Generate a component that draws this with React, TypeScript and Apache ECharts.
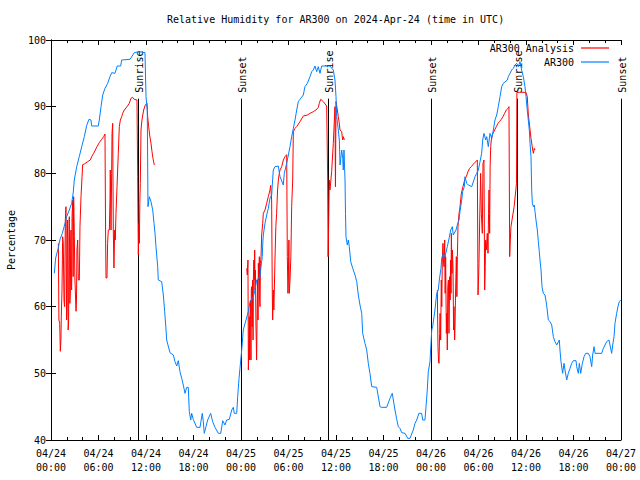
import React, { useEffect, useRef } from "react";
import * as echarts from "echarts";

const TITLE = "Relative Humidity for AR300 on 2024-Apr-24 (time in UTC)";
const Y_NAME = "Percentage";
const SERIES_NAMES = ["AR300 Analysis", "AR300"];
const X_TICK_LABELS = [
  "04/24\n00:00", "04/24\n06:00", "04/24\n12:00", "04/24\n18:00",
  "04/25\n00:00", "04/25\n06:00", "04/25\n12:00", "04/25\n18:00",
  "04/26\n00:00", "04/26\n06:00", "04/26\n12:00", "04/26\n18:00",
  "04/27\n00:00",
];
const Y_MIN = 40;
const Y_MAX = 100;
const Y_STEP = 10;
const X_MIN = 0;
const X_MAX = 72;
const X_STEP = 6;

// hours since 04/24 00:00 UTC, label
const SUN_EVENTS: [number, string][] = [
  [11.03, "Sunrise"], [24.0, "Sunset"],
  [35.03, "Sunrise"], [48.04, "Sunset"],
  [58.9, "Sunrise"], [72.0, "Sunset"],
];
const SUN_LINE_TOP = 91.2;

// AR300 observed relative humidity [hours, %]
const AR300: [number, number][] = [
  [0.42,65],[0.59,67.3],[0.92,68.8],[1.14,70.1],[1.43,71],[1.77,72.5],[1.98,73.5],[2.31,74.5],[2.61,75.5],[2.82,77.2],
  [2.94,79],[3.25,81],[3.57,82.5],[3.88,84],[4.21,85.5],[4.51,87.2],[4.8,88.1],[5.05,88],[5.14,87.1],[5.97,87.1],
  [6.1,88],[6.32,90],[6.53,91.75],[6.82,92.75],[7.16,93.5],[7.45,94.5],[7.67,95.1],[8.08,95],[8.37,96.1],[8.8,96.1],
  [8.93,97],[9.98,97.1],[10.52,98.1],[11.15,98.25],[11.87,98.1],[12.0,91.5],[12.16,89.5],[12.25,75],[12.42,76.5],[12.63,75.75],
  [12.85,74.5],[13.01,72.5],[13.14,71],[13.26,69],[13.48,66],[13.55,64],[13.98,63.75],[14.19,61.75],[14.36,59.25],[14.49,57.25],
  [14.61,55],[15.03,53.1],[15.45,52.75],[15.66,51.75],[15.88,51.1],[16.08,51.9],[16.29,50.25],[16.51,49.25],[16.71,48.25],[16.93,47],
  [17.14,47.9],[17.34,47.9],[17.47,44.25],[17.65,43],[17.77,44],[17.97,43.1],[18.4,41.9],[18.82,41.9],[19.11,44],[19.24,42.75],
  [19.36,41],[19.58,42],[19.79,43],[20.17,44],[20.42,42.75],[20.72,41.9],[21.13,41],[21.44,41],[21.69,42.9],[21.98,42.25],
  [22.19,43],[22.52,43.1],[22.83,44.5],[23.03,44.9],[23.15,44],[23.46,44],[23.58,46.5],[23.75,49.25],[23.87,50.75],[24.09,53.5],
  [24.29,56.5],[24.63,58],[24.92,59.25],[25.14,60.75],[25.56,61.5],[25.77,62.5],[25.98,64],[26.4,64.5],[26.53,66],[26.69,67.5],
  [26.74,69.25],[26.82,70.75],[27.03,72.5],[27.25,73.75],[27.45,74.75],[27.66,76.25],[27.88,76.75],[27.95,78.25],[28.08,80.5],[28.29,81],
  [28.71,81.1],[28.93,79.5],[29.34,78.25],[29.47,80],[29.77,81.5],[30.19,84],[30.4,85.5],[30.61,86.75],[30.82,88],[31.04,89.5],
  [31.24,90.75],[31.45,91.1],[31.87,91.75],[32.08,93],[32.38,93.5],[32.72,94.5],[32.93,95.25],[33.13,95.5],[33.35,96.1],[33.56,95.25],
  [33.76,96],[33.98,95],[34.19,96.1],[35.24,96.1],[35.66,95.5],[35.87,94],[36.0,91.5],[36.09,88.5],[36.29,86.5],[36.42,85],
  [36.51,81.25],[36.72,83.5],[36.85,82.25],[36.92,80.5],[37.01,83.5],[37.14,79],[37.2,74],[37.26,70.5],[37.43,69.25],[37.56,70],
  [37.68,69],[37.86,66.75],[38.11,65.75],[38.4,64.75],[38.62,63.75],[38.82,61.75],[39.03,60.25],[39.25,59],[39.37,56],[39.66,54.5],
  [39.88,53.5],[40.08,51.5],[40.29,50],[40.51,48],[41.14,47.9],[41.56,45],[41.77,44.9],[42.4,44.9],[42.82,46.25],[43.11,47],
  [43.24,46],[43.45,44.5],[43.67,43.1],[43.87,42],[44.08,41.75],[44.3,41.1],[44.72,41],[45.06,40.25],[45.35,40.25],[45.56,40.9],
  [45.76,41.5],[45.98,42.5],[46.19,43],[46.48,44],[46.82,44],[46.95,43],[47.24,43],[47.37,45],[47.53,47.5],[47.66,50.25],
  [47.87,51.75],[48.0,54.5],[48.09,56.5],[48.21,57],[48.38,58.5],[48.5,59.5],[48.63,61],[48.72,62],[48.92,62.5],[49.05,64],
  [49.14,64.75],[49.26,65.75],[49.35,67.25],[49.56,68],[49.77,67.5],[50.06,69],[50.31,70.4],[50.49,71.5],[50.69,72],[50.82,70.75],
  [51.16,71.5],[51.32,72.25],[51.54,73],[51.66,74.25],[51.88,76],[52.0,77.25],[52.21,78],[52.29,79.5],[52.51,78.5],[52.71,78.25],
  [53.14,78],[53.56,79.5],[53.77,80],[53.98,80.5],[54.19,81.75],[54.4,83],[54.53,85],[54.69,86],[54.91,85],[55.04,85.5],
  [55.24,84],[55.45,86],[55.67,85.25],[55.87,86.5],[56.08,88],[56.3,88.75],[56.5,90],[56.72,91.5],[56.93,93],[57.13,93.5],
  [57.64,94],[57.76,94.5],[57.98,95],[58.19,95.5],[58.4,95.75],[58.61,96.25],[58.82,96.5],[59.03,96],[59.24,96.75],[59.45,95.5],
  [59.66,94.5],[59.87,93],[60.0,91.5],[60.16,89.5],[60.29,88],[60.42,86.5],[60.51,84.5],[60.63,82.5],[60.72,77.5],[60.8,75.5],
  [60.93,75],[61.05,75.25],[61.14,74.25],[61.26,73],[61.43,71.5],[61.56,69.75],[61.68,68.25],[61.77,67],[61.9,65.5],[62.02,63],
  [62.19,62],[62.4,61.75],[62.61,60.25],[62.82,58],[63.03,57.75],[63.25,57.25],[63.45,55.5],[63.66,54.75],[63.88,54.25],[64.21,55],
  [64.29,53.5],[64.42,51.75],[64.63,50],[64.8,51.5],[64.93,50.5],[65.14,49],[65.34,50],[65.56,50.75],[65.77,51.5],[65.98,51.9],
  [66.32,51.9],[66.4,51],[66.61,50],[66.74,51.5],[66.91,50],[67.12,51.5],[67.33,52.5],[67.54,53],[67.87,53],[68.08,52.5],
  [68.3,51],[68.42,52.75],[68.59,54],[68.72,53],[69.56,53],[69.77,53.75],[69.98,54.25],[70.19,54.75],[70.48,55],[70.61,54.25],
  [70.82,53],[70.95,54.25],[71.12,55.5],[71.24,57.5],[71.45,59],[71.66,60.25],[71.79,60.75],[71.96,61],
];

// AR300 Analysis [hours, %]; null marks a gap
const ANALYSIS: [number, number | null][] = [
  // 04/24 daytime
  [0.93,69.5],[1.0,58],[1.1,57.5],[1.18,53.3],[1.26,55.3],[1.3,58.5],[1.39,62.5],[1.47,70.5],[1.55,69.5],[1.64,61],
  [1.72,60],[1.81,73],[1.89,75],[1.97,58],[2.02,60],[2.06,73],[2.11,70.5],[2.17,56.5],[2.23,58],[2.28,73],
  [2.32,73.5],[2.38,60.5],[2.44,62],[2.49,70],[2.53,71.5],[2.57,63],[2.61,62.5],[2.66,73.5],[2.74,76],[2.8,64.5],
  [2.86,76.5],[2.91,73.5],[2.95,70.5],[3.01,64.5],[3.07,64.5],[3.16,59.3],[3.22,61],[3.28,68.5],[3.37,70],[3.45,64],
  [3.58,64],[3.66,72],[3.71,72],[3.79,76.5],[3.92,79.5],[4.0,81.3],[4.21,81.4],[4.63,81.75],[4.97,82],[5.14,82.5],
  [5.39,83],[5.6,83.5],[5.81,84],[6.1,84.6],[6.4,85.1],[6.65,85.5],[6.82,85.9],[6.9,70],[6.95,64.3],[7.07,64.3],
  [7.15,69.5],[7.24,71.5],[7.37,71.5],[7.45,76],[7.49,80.5],[7.58,71.5],[7.66,80],[7.71,86],[7.79,87.5],[7.87,71.5],
  [7.95,65.8],[8.04,71.5],[8.12,70],[8.21,74],[8.34,78],[8.5,83],[8.63,87],[8.76,88],[8.93,88.5],[9.05,89],
  [9.26,89.5],[9.6,90],[9.89,90.5],[10.1,91.25],[10.3,91.4],[10.5,91.1],[10.86,91],[10.95,79.5],[11.03,67.8],[11.1,72.5],
  [11.16,69.5],[11.22,75.5],[11.28,78.5],[11.37,86.5],[11.49,88],[11.7,89.5],[11.92,90.25],[12.13,90.5],[12.21,88.5],[12.34,87],
  [12.46,85.75],[12.63,84.5],[12.76,83.25],[12.88,82.25],[13.05,81.25],
  [13.5,null],
  // 04/25 daytime
  [24.72,65.75],[24.8,64.75],[24.88,67],[24.93,50.5],[25.0,55],[25.05,58.5],[25.1,52],[25.14,59],[25.2,61],[25.26,52],
  [25.3,62.5],[25.35,63],[25.41,57],[25.47,64],[25.52,55],[25.56,64],[25.62,67],[25.68,64],[25.73,68.5],[25.77,62.5],
  [25.83,65.5],[25.89,57],[25.93,55],[25.97,52],[26.03,58],[26.1,64],[26.15,58],[26.19,66.5],[26.25,64],[26.32,67.5],
  [26.36,61],[26.4,60],[26.46,66.5],[26.53,67.5],[26.61,70.75],[26.74,72.5],[26.82,74],[27.03,74.5],[27.24,75.5],[27.45,76.5],
  [27.66,77.5],[27.75,78.2],[27.87,76],[27.95,62.5],[28.0,58],[28.08,62.5],[28.15,59.5],[28.21,62.5],[28.29,67],[28.4,72],
  [28.5,74],[28.62,77.5],[28.72,79],[28.84,80],[28.93,80.5],[29.14,81],[29.35,82],[29.56,82.5],[29.77,82.8],[29.85,67.5],
  [29.93,62],[29.98,64],[30.05,70],[30.1,62],[30.19,64],[30.3,67.5],[30.4,75],[30.53,79],[30.61,86.25],[30.82,86.75],
  [31.03,87],[31.45,87.75],[31.87,88.6],[32.38,88.75],[32.72,89],[33.14,89.25],[33.47,89.5],[33.77,89.9],[33.89,90.5],[34.06,91.1],
  [34.4,90.75],[34.82,90.1],[34.95,79],[35.0,67.5],[35.07,72],[35.15,79],[35.24,77.5],[35.45,80.25],[35.66,84.5],[35.87,90],
  [35.93,78],[36.0,90.75],[36.17,89.5],[36.29,88.5],[36.42,87.5],[36.5,86.5],[36.72,86.25],[36.84,85],[36.93,85.5],[37.05,85],
  [37.5,null],
  // 04/26 daytime
  [48.8,62.5],[48.88,54],[48.95,52],[49.01,51.5],[49.09,56],[49.15,59],[49.22,55],[49.3,64],[49.36,60],[49.43,67],
  [49.51,69.5],[49.57,67],[49.64,66],[49.73,70],[49.79,62],[49.85,67.5],[49.94,56],[50.0,59],[50.06,53.5],[50.12,63],
  [50.2,64],[50.27,56],[50.36,64.5],[50.42,61],[50.48,67],[50.53,62],[50.57,71],[50.65,65],[50.7,68.5],[50.78,66],
  [50.85,56.5],[50.9,60],[50.99,55],[51.05,58],[51.11,62.5],[51.2,67.5],[51.27,61.5],[51.33,67.5],[51.41,72],[51.54,74],
  [51.62,74.5],[51.75,76],[51.83,77],[52.04,78],[52.25,79],[52.46,79.5],[52.67,80.25],[52.88,80.75],[53.09,81],[53.3,81.3],
  [53.51,81.6],[53.73,81.8],[53.85,82],[53.94,61.75],[54.0,64],[54.06,66.5],[54.15,73],[54.27,80],[54.36,74],[54.48,71],
  [54.57,81.5],[54.69,82],[54.78,62.5],[54.85,66],[54.9,70],[54.99,68.5],[55.11,71],[55.2,68],[55.27,74],[55.33,77.5],
  [55.41,71],[55.47,81],[55.54,84],[55.62,85],[55.75,85.8],[55.83,86],[56.04,86.5],[56.25,87],[56.46,87.5],[56.67,87.8],
  [56.88,88.1],[57.09,88.5],[57.3,89],[57.51,89.5],[57.73,89.75],[57.85,90],[57.94,67.5],[58.02,70],[58.1,72],[58.5,75],
  [58.8,78.5],[58.85,92.15],[59.2,92.15],[59.5,92.15],[60.0,92.15],[60.16,91.5],[60.29,88.9],[60.51,86.5],[60.63,85.25],[60.85,83.5],
  [60.93,83],[61.05,83.75],[61.14,83.5],
];

const FONT = "DejaVu Sans Mono";

export default function App() {
  const ref = useRef<HTMLDivElement>(null);
  useEffect(() => {
    if (!ref.current) return;
    document.body.style.margin = "0";
    const chart = echarts.init(ref.current, undefined, { renderer: "svg" });
    const baseText = { fontFamily: FONT, fontSize: 10, color: "#000" };
    const xCommon = {
      type: "value" as const,
      min: X_MIN,
      max: X_MAX,
      interval: X_STEP,
      axisLine: { show: true, lineStyle: { color: "#000", width: 1 } },
      axisTick: { show: true, inside: true, length: 5, lineStyle: { color: "#000" } },
      minorTick: { show: true, splitNumber: 3, length: 3, lineStyle: { color: "#000" } },
      splitLine: { show: false },
    };
    const yCommon = {
      type: "value" as const,
      min: Y_MIN,
      max: Y_MAX,
      interval: Y_STEP,
      axisLine: { show: true, lineStyle: { color: "#000", width: 1 } },
      axisTick: { show: true, inside: true, length: 5, lineStyle: { color: "#000" } },
      splitLine: { show: false },
    };
    const legendCommon = {
      right: 31,
      padding: 0,
      align: "right" as const,
      icon: "rect",
      itemWidth: 28,
      itemHeight: 1.2,
      itemGap: 0,
      selectedMode: false,
      textStyle: { ...baseText, padding: [0, 2, 0, 0] },
    };
    chart.setOption({
      animation: false,
      backgroundColor: "#fff",
      title: {
        text: TITLE,
        left: 167,
        top: 14,
        padding: 0,
        textStyle: { ...baseText, fontWeight: "normal" },
      },
      grid: {
        left: 51, right: 19, top: 40, bottom: 40,
        containLabel: false,
        outerBoundsMode: "none",
      },
      legend: [
        { ...legendCommon, data: [SERIES_NAMES[0]], top: 43 },
        { ...legendCommon, data: [SERIES_NAMES[1]], top: 57 },
      ],
      xAxis: [
        {
          ...xCommon,
          position: "bottom",
          axisLabel: {
            ...baseText,
            margin: 6,
            lineHeight: 14,
            formatter: (v: number) => X_TICK_LABELS[Math.round((v - X_MIN) / X_STEP)] ?? "",
          },
        },
        { ...xCommon, position: "top", axisLabel: { show: false } },
      ],
      yAxis: [
        {
          ...yCommon,
          position: "left",
          name: Y_NAME,
          nameLocation: "middle",
          nameGap: 35,
          nameRotate: 90,
          nameTextStyle: baseText,
          axisLabel: { ...baseText, margin: 5 },
        },
        { ...yCommon, position: "right", axisLabel: { show: false } },
      ],
      series: [
        {
          type: "custom",
          name: "sun",
          xAxisIndex: 0,
          yAxisIndex: 0,
          z: 1,
          silent: true,
          data: SUN_EVENTS.map((e) => [e[0], Y_MIN]),
          renderItem: (params: any, api: any) => {
            const t = api.value(0);
            const p0 = api.coord([t, Y_MIN]);
            const p1 = api.coord([t, SUN_LINE_TOP]);
            const label = SUN_EVENTS[params.dataIndex][1];
            const x = Math.round(p0[0]) + 0.5;
            return {
              type: "group",
              children: [
                {
                  type: "line",
                  shape: { x1: x, y1: p0[1], x2: x, y2: p1[1] },
                  style: { stroke: "#000", lineWidth: 1 },
                },
                {
                  type: "text",
                  x: x + 1,
                  y: p1[1] - 6,
                  rotation: Math.PI / 2,
                  style: {
                    text: label,
                    font: `10px "${FONT}"`,
                    fill: "#000",
                    align: "left",
                    verticalAlign: "middle",
                  },
                },
              ],
            };
          },
        },
        {
          type: "line",
          name: SERIES_NAMES[0],
          data: ANALYSIS,
          symbol: "none",
          connectNulls: false,
          z: 2,
          lineStyle: { color: "#ff0000", width: 1 },
          itemStyle: { color: "#ff0000" },
        },
        {
          type: "line",
          name: SERIES_NAMES[1],
          data: AR300,
          symbol: "none",
          z: 3,
          lineStyle: { color: "#0080ff", width: 1 },
          itemStyle: { color: "#0080ff" },
        },
      ],
    });
    return () => chart.dispose();
  }, []);
  return <div ref={ref} style={{ width: 640, height: 480 }} />;
}
